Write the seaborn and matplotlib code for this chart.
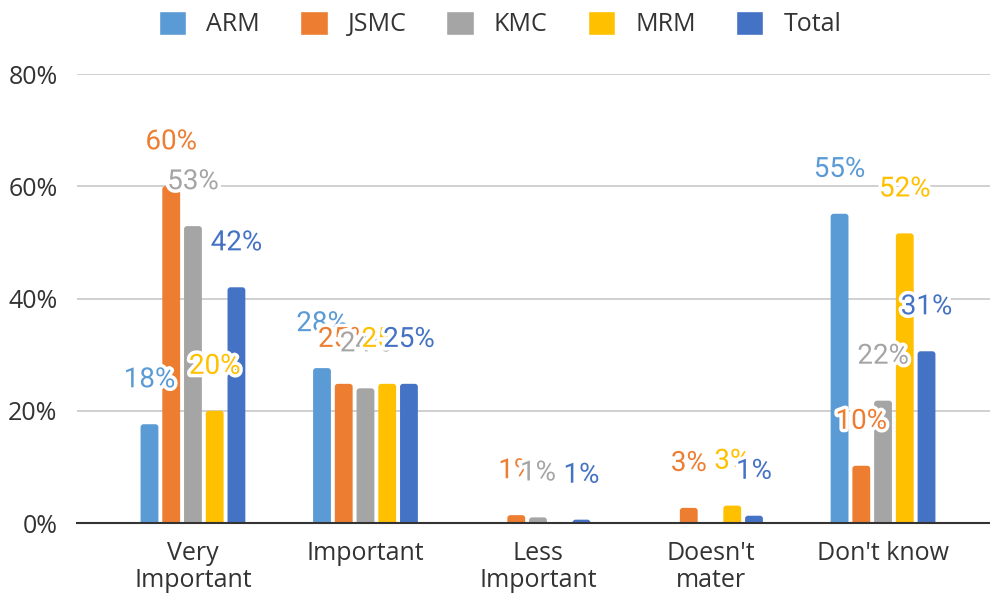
import matplotlib
matplotlib.use("Agg")
import matplotlib.pyplot as plt
import matplotlib.patheffects as pe
from matplotlib.patches import FancyBboxPatch
import pandas as pd
import seaborn as sns

# Survey answers per group, in percent
categories = ["Very\nImportant", "Important", "Less\nImportant", "Doesn't\nmater", "Don't know"]
series = ["ARM", "JSMC", "KMC", "MRM", "Total"]
arm = [17.6, 27.6, 0.0, 0.0, 55.1]
jsmc = [60.0, 24.8, 1.4, 2.7, 10.2]
kmc = [52.9, 24.0, 1.0, 0.0, 21.8]
mrm = [20.0, 24.8, 0.0, 3.1, 51.6]
total = [42.0, 24.8, 0.6, 1.3, 30.6]
y_ticks = [0, 20, 40, 60, 80]
y_tick_labels = ["0%", "20%", "40%", "60%", "80%"]

colors = ["#5B9BD5", "#ED7D31", "#A5A5A5", "#FFC000", "#4472C4"]

values = [arm, jsmc, kmc, mrm, total]
df = pd.DataFrame(
    [(c, s, v) for s, vals in zip(series, values) for c, v in zip(categories, vals)],
    columns=["category", "series", "value"],
)

sns.set_theme(style="white")
plt.rcParams["font.family"] = ["Open Sans", "DejaVu Sans"]

fig = plt.figure(figsize=(9.9, 5.94), dpi=100)
ax = fig.add_axes([0.0778, 0.1195, 0.9222, 0.7559])

sns.barplot(
    data=df, x="category", y="value", hue="series", order=categories,
    hue_order=series, palette=colors, saturation=1, width=0.63, gap=0.18,
    ax=ax, legend=True,
)

ax.set_ylim(0, 80)
ax.set_xlim(-0.672, 4.62)
ax.set_yticks(y_ticks)
ax.set_yticklabels(y_tick_labels)
ax.set_xlabel("")
ax.set_ylabel("")
ax.tick_params(axis="both", length=0, labelsize=18, colors="#333333")
ax.tick_params(axis="y", pad=14)
ax.tick_params(axis="x", pad=13)
for lbl in ax.get_xticklabels():
    lbl.set_linespacing(1.08)

ax.yaxis.grid(True, color="#D0D0D0", linewidth=1.4)
ax.set_axisbelow(True)
for side in ["top", "right", "left"]:
    ax.spines[side].set_visible(False)
ax.spines["bottom"].set_color("#333333")
ax.spines["bottom"].set_linewidth(1.5)
ax.spines["bottom"].set_zorder(5)

# Swap the square bars for versions with rounded top corners
fig.canvas.draw()
bbox = ax.get_window_extent()
px_per_x = bbox.width / (ax.get_xlim()[1] - ax.get_xlim()[0])
px_per_y = bbox.height / (ax.get_ylim()[1] - ax.get_ylim()[0])
radius_px = 3.0
rx = radius_px / px_per_x
aspect = px_per_x / px_per_y
ry = rx * aspect
for container in ax.containers:
    for bar in container:
        h = bar.get_height()
        if h <= 0:
            continue
        bar.set_visible(False)
        ax.add_patch(FancyBboxPatch(
            (bar.get_x(), -ry), bar.get_width(), h + ry,
            boxstyle=f"round,pad=0,rounding_size={rx}", mutation_aspect=aspect,
            facecolor=bar.get_facecolor(), edgecolor="none", zorder=2,
        ))

# Value labels above each bar with a white halo
for container, color, vals in zip(ax.containers, colors, values):
    for bar, v in zip(container, vals):
        if v <= 0:
            continue
        x = bar.get_x() + bar.get_width() / 2
        ax.annotate(
            f"{v:.0f}%", xy=(x, bar.get_height()), xytext=(0, 32),
            textcoords="offset points", ha="center", va="center",
            fontsize=20, color=color, family=["Roboto", "DejaVu Sans"],
            path_effects=[pe.withStroke(linewidth=5, foreground="white")],
            annotation_clip=False, zorder=6,
        )

handles, labels = ax.get_legend_handles_labels()
ax.get_legend().remove()
fig.legend(
    handles, labels, loc="upper center", bbox_to_anchor=(0.505, 1.02),
    ncol=5, frameon=False, fontsize=18, handlelength=1.1, handleheight=1.1,
    handletextpad=0.8, columnspacing=1.6, labelcolor="#333333",
)

fig.savefig("out.png", dpi=100)
